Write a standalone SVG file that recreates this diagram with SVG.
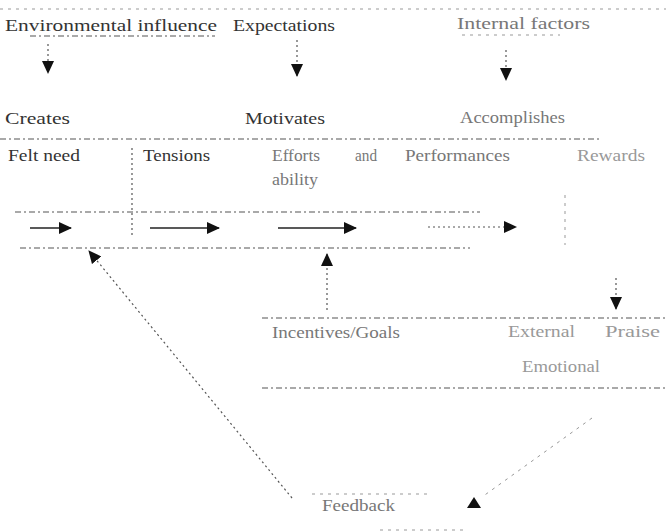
<svg xmlns="http://www.w3.org/2000/svg" width="666" height="532" viewBox="0 0 666 532">
<style>
text{font-family:"Liberation Serif","Times New Roman",serif;font-size:16px;fill:#333}
.f{fill:#777}
.ff{fill:#999}
.dl{stroke:#555;stroke-width:1.2;stroke-dasharray:6 3 2 3;fill:none}
.fl{stroke:#999;stroke-width:1;stroke-dasharray:3 5;fill:none}
.ar{stroke:#222;stroke-width:1.5;fill:none}
.dot{stroke:#555;stroke-width:1.2;stroke-dasharray:2 3;fill:none}
</style>
<defs>
<marker id="ah" markerWidth="13" markerHeight="12" refX="12" refY="6" orient="auto" markerUnits="userSpaceOnUse">
<path d="M0,0 L13,6 L0,12 Z" fill="#111"/>
</marker>
</defs>
<rect width="666" height="532" fill="#fff"/>
<g id="frame-lines">
<line class="fl" x1="0" y1="9" x2="666" y2="9"/>
<line class="dl" x1="30" y1="36" x2="215" y2="36"/>
<line class="fl" x1="462" y1="35" x2="560" y2="35"/>
<line class="dl" x1="0" y1="139" x2="600" y2="139"/>
<line class="dl" x1="15" y1="212" x2="480" y2="212"/>
<line class="dl" x1="20" y1="248" x2="470" y2="248"/>
<line class="dl" x1="262" y1="318" x2="666" y2="318"/>
<line class="dl" x1="262" y1="388" x2="666" y2="388"/>
<line class="fl" x1="312" y1="494" x2="432" y2="494"/>
<line class="fl" x1="380" y1="530" x2="465" y2="530"/>
</g>
<g id="n-env"><text x="5" y="31" textLength="212" lengthAdjust="spacingAndGlyphs">Environmental influence</text></g>
<g id="n-exp"><text x="233" y="31" textLength="102" lengthAdjust="spacingAndGlyphs">Expectations</text></g>
<g id="n-int"><text class="f" x="457" y="29" textLength="133" lengthAdjust="spacingAndGlyphs">Internal factors</text></g>
<g id="n-creates"><text x="5" y="124" textLength="65" lengthAdjust="spacingAndGlyphs">Creates</text></g>
<g id="n-motivates"><text x="245" y="124" textLength="80" lengthAdjust="spacingAndGlyphs">Motivates</text></g>
<g id="n-accomplishes"><text class="f" x="460" y="123" textLength="105" lengthAdjust="spacingAndGlyphs">Accomplishes</text></g>
<g id="n-felt"><text x="8" y="161" textLength="72" lengthAdjust="spacingAndGlyphs">Felt need</text></g>
<g id="n-tensions"><text x="143" y="161" textLength="67" lengthAdjust="spacingAndGlyphs">Tensions</text></g>
<g id="n-efforts"><text class="f" x="272" y="161" textLength="48" lengthAdjust="spacingAndGlyphs">Efforts</text><text class="f" x="355" y="161" textLength="22" lengthAdjust="spacingAndGlyphs">and</text><text class="f" x="272" y="185" textLength="46" lengthAdjust="spacingAndGlyphs">ability</text></g>
<g id="n-perf"><text class="f" x="405" y="161" textLength="105" lengthAdjust="spacingAndGlyphs">Performances</text></g>
<g id="n-rewards"><text class="ff" x="577" y="161" textLength="68" lengthAdjust="spacingAndGlyphs">Rewards</text></g>
<g id="n-incentives"><text class="f" x="272" y="338" textLength="128" lengthAdjust="spacingAndGlyphs">Incentives/Goals</text></g>
<g id="n-external"><text class="ff" x="508" y="337" textLength="67" lengthAdjust="spacingAndGlyphs">External</text></g>
<g id="n-praise"><text class="ff" x="605" y="337" textLength="55" lengthAdjust="spacingAndGlyphs">Praise</text></g>
<g id="n-emotional"><text class="ff" x="522" y="372" textLength="78" lengthAdjust="spacingAndGlyphs">Emotional</text></g>
<g id="n-feedback"><text class="f" x="322" y="511" textLength="73" lengthAdjust="spacingAndGlyphs">Feedback</text></g>
<g id="connectors">
<line class="dot" x1="48" y1="44" x2="48" y2="73" marker-end="url(#ah)"/>
<line class="dot" x1="297" y1="40" x2="297" y2="76" marker-end="url(#ah)"/>
<line class="dot" x1="506" y1="50" x2="506" y2="80" marker-end="url(#ah)"/>
<line class="dot" x1="132" y1="148" x2="132" y2="236"/>
<line class="ar" x1="30" y1="228" x2="71" y2="228" marker-end="url(#ah)"/>
<line class="ar" x1="150" y1="228" x2="219" y2="228" marker-end="url(#ah)"/>
<line class="ar" x1="278" y1="228" x2="356" y2="228" marker-end="url(#ah)"/>
<line class="dot" x1="428" y1="227" x2="516" y2="227" marker-end="url(#ah)"/>
<line class="fl" x1="565" y1="195" x2="565" y2="245"/>
<line class="dot" x1="327" y1="310" x2="327" y2="254" marker-end="url(#ah)"/>
<line class="dot" x1="616" y1="278" x2="616" y2="309" marker-end="url(#ah)"/>
<line class="dot" x1="292" y1="498" x2="89" y2="251" marker-end="url(#ah)"/>
<line class="fl" x1="592" y1="418" x2="482" y2="497"/>
<path d="M467,508 L474,497 L481,508 Z" fill="#111"/>
</g>
</svg>
